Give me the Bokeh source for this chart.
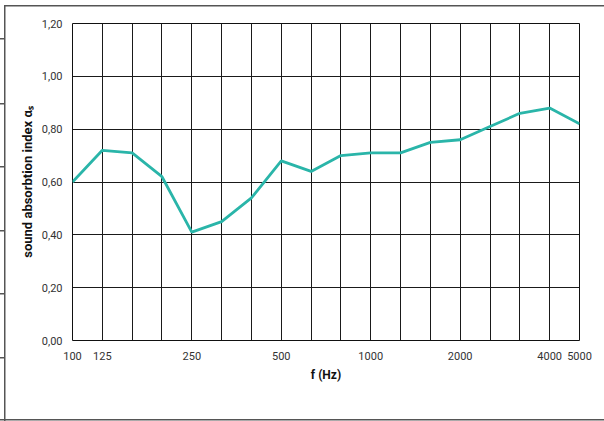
from bokeh.plotting import figure
from bokeh.models import FixedTicker, CustomJSTickFormatter, ColumnDataSource, InlineStyleSheet
from bokeh.embed import file_html
from bokeh.resources import INLINE

# 1/3 octave band centre frequencies (Hz)
bands = [100, 125, 160, 200, 250, 315, 400, 500, 630, 800,
         1000, 1250, 1600, 2000, 2500, 3150, 4000, 5000]
# sound absorption coefficient alpha_s
alpha = [0.60, 0.72, 0.71, 0.62, 0.41, 0.45, 0.54, 0.68, 0.64, 0.70,
         0.71, 0.71, 0.75, 0.76, 0.81, 0.86, 0.88, 0.82]
# labelled frequencies on the x axis
x_labels = [100, 125, 250, 500, 1000, 2000, 4000, 5000]
# y ticks
y_ticks = [0.0, 0.2, 0.4, 0.6, 0.8, 1.0, 1.2]

idx = list(range(len(bands)))
src = ColumnDataSource(dict(x=idx, y=alpha, f=bands))

p = figure(width=604, height=421, output_backend="svg", toolbar_location=None,
           x_range=(0, len(bands) - 1), y_range=(0, 1.2),
           min_border_left=72, min_border_right=25, min_border_top=23, min_border_bottom=81)

p.outline_line_color = "#111111"
p.outline_line_width = 1
p.background_fill_color = "white"
p.border_fill_color = None

# decorative page frame of the surrounding document, painted behind the canvas
tick_ys = [38, 103, 166, 230, 293, 357]
layers = ["linear-gradient(#555,#555) 4px 5px / 100% 1.5px no-repeat",
          "linear-gradient(#555,#555) 4px 5px / 1.5px 100% no-repeat",
          "linear-gradient(#555,#555) 0 419px / 100% 1.5px no-repeat"]
layers += [f"linear-gradient(#555,#555) 0 {y}px / 5px 1.5px no-repeat" for y in tick_ys]
css = ":host { background: " + ", ".join(layers) + ", #ffffff; }"
p.stylesheets = [InlineStyleSheet(css=css)]

# x axis
label_pos = [bands.index(b) for b in x_labels]
p.xaxis.ticker = FixedTicker(ticks=label_pos)
p.xaxis.major_label_overrides = {i: str(b) for i, b in zip(label_pos, x_labels)}
p.xgrid.ticker = FixedTicker(ticks=idx)
p.xaxis.axis_label = "f (Hz)"

# y axis
p.yaxis.ticker = FixedTicker(ticks=y_ticks)
p.yaxis.formatter = CustomJSTickFormatter(code="return tick.toFixed(2).replace('.', ',');")
p.ygrid.ticker = FixedTicker(ticks=y_ticks)
p.yaxis.axis_label = "sound absorbtion index \u03b1\u209b"

for ax in (p.xaxis[0], p.yaxis[0]):
    ax.axis_line_color = None
    ax.major_tick_line_color = None
    ax.minor_tick_line_color = None
    ax.major_tick_out = 0
    ax.major_tick_in = 0
    ax.minor_tick_out = 0
    ax.minor_tick_in = 0
    ax.major_label_text_font = "Roboto"
    ax.major_label_text_font_size = "11px"
    ax.major_label_text_color = "#333333"
    ax.axis_label_text_font = "Roboto"
    ax.axis_label_text_font_style = "bold"
    ax.axis_label_text_color = "#111111"

p.xaxis.axis_label_text_font_size = "12px"
p.yaxis.axis_label_text_font_size = "13px"
p.xaxis.major_label_standoff = 11
p.xaxis.axis_label_standoff = 5
p.yaxis.major_label_standoff = 10
p.yaxis.axis_label_standoff = 4

for g in (p.xgrid[0], p.ygrid[0]):
    g.grid_line_color = "#1a1a1a"
    g.grid_line_width = 1
    g.grid_line_alpha = 1

p.line("x", "y", source=src, line_color="#2ab5a9", line_width=2.8)

open("out.html", "w").write(file_html(p, INLINE))
